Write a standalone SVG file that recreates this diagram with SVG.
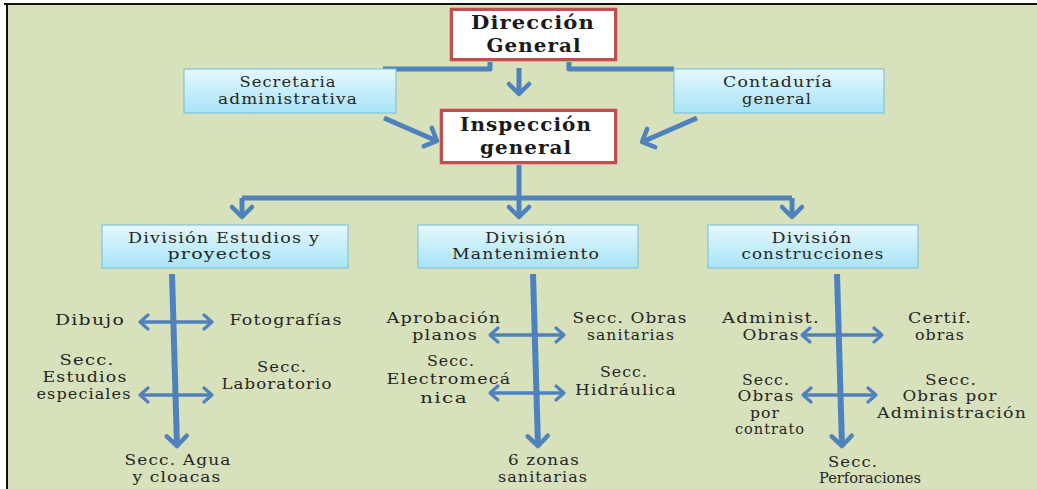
<svg xmlns="http://www.w3.org/2000/svg" width="1037" height="489" viewBox="0 0 1037 489">
  <style>
    .t { font-family: "DejaVu Serif", "Liberation Serif", serif; font-size: 15px; letter-spacing: 1px; fill: #262626; text-anchor: middle; }
    .h { font-family: "DejaVu Serif", "Liberation Serif", serif; font-size: 19px; font-weight: bold; letter-spacing: 1px; fill: #1a1a1a; text-anchor: middle; }
    .box { fill: url(#cyanGrad); stroke: #86C3D9; stroke-width: 1.2; }
    .frame-out { fill: #E4AAA7; }
    .frame-in { fill: #FFFFFF; stroke: #C0504D; stroke-width: 3; }
    .ln { fill: none; stroke: #4F81BD; stroke-width: 5; stroke-linejoin: round; }
    .main { fill: none; stroke: #4F81BD; stroke-width: 6; }
    .dbl { fill: none; stroke: #4F81BD; stroke-width: 3.5; }
  </style>
  <defs>
    <linearGradient id="cyanGrad" x1="0" y1="0" x2="0" y2="1">
      <stop offset="0" stop-color="#E6F8FE"/>
      <stop offset="1" stop-color="#A6E4F7"/>
    </linearGradient>
    <marker id="headBig" markerUnits="userSpaceOnUse" viewBox="-14 -14 28 28" markerWidth="28" markerHeight="28" refX="0" refY="0" orient="auto">
      <path d="M-10,-10 L0,0 L-10,10" fill="none" stroke="#4F81BD" stroke-width="4.5" stroke-linecap="round" stroke-linejoin="round"/>
    </marker>
    <marker id="headSmall" markerUnits="userSpaceOnUse" viewBox="-12 -12 24 24" markerWidth="24" markerHeight="24" refX="0" refY="0" orient="auto-start-reverse">
      <path d="M-8,-7 L0,0 L-8,7" fill="none" stroke="#4F81BD" stroke-width="3.2" stroke-linecap="round" stroke-linejoin="round"/>
    </marker>
  </defs>

  <!-- page background and frame -->
  <rect x="0" y="0" width="1037" height="489" fill="#FFFFFF"/>
  <rect x="7" y="4" width="1030" height="485" fill="#D7E1BB"/>
  <line x1="4" y1="4" x2="1037" y2="4" stroke="#111" stroke-width="2"/>
  <line x1="7" y1="3" x2="7" y2="489" stroke="#111" stroke-width="2"/>

  <!-- connectors -->
  <g id="connectors">
    <path class="ln" d="M490,62 V69 H383"/>
    <path class="ln" d="M569,62 V69 H674"/>
    <line class="ln" x1="519" y1="68" x2="519" y2="94" marker-end="url(#headBig)"/>
    <line class="ln" x1="384" y1="118" x2="437" y2="141" marker-end="url(#headBig)"/>
    <line class="ln" x1="697" y1="118" x2="642" y2="142" marker-end="url(#headBig)"/>
    <line class="ln" x1="519" y1="165" x2="519" y2="198"/>
    <path class="ln" d="M242,198 H792"/>
    <line class="ln" x1="242" y1="198" x2="242" y2="217" marker-end="url(#headBig)"/>
    <line class="ln" x1="519" y1="198" x2="519" y2="217" marker-end="url(#headBig)"/>
    <line class="ln" x1="792" y1="198" x2="792" y2="217" marker-end="url(#headBig)"/>

    <line class="main" x1="172" y1="274" x2="177" y2="446" marker-end="url(#headBig)"/>
    <line class="main" x1="533" y1="274" x2="538" y2="446" marker-end="url(#headBig)"/>
    <line class="main" x1="837" y1="274" x2="842" y2="446" marker-end="url(#headBig)"/>

    <line class="dbl" x1="140" y1="322" x2="212" y2="322" marker-start="url(#headSmall)" marker-end="url(#headSmall)"/>
    <line class="dbl" x1="140" y1="395" x2="212" y2="395" marker-start="url(#headSmall)" marker-end="url(#headSmall)"/>
    <line class="dbl" x1="490" y1="335" x2="564" y2="335" marker-start="url(#headSmall)" marker-end="url(#headSmall)"/>
    <line class="dbl" x1="490" y1="393" x2="564" y2="393" marker-start="url(#headSmall)" marker-end="url(#headSmall)"/>
    <line class="dbl" x1="802" y1="335" x2="882" y2="335" marker-start="url(#headSmall)" marker-end="url(#headSmall)"/>
    <line class="dbl" x1="803" y1="395" x2="876" y2="395" marker-start="url(#headSmall)" marker-end="url(#headSmall)"/>
  </g>

  <!-- top level -->
  <g id="direccion-general">
    <rect class="frame-out" x="449" y="7" width="169" height="55" rx="2"/>
    <rect class="frame-in" x="451.5" y="9.5" width="164" height="50"/>
    <text class="h" x="533" y="29" textLength="124" lengthAdjust="spacingAndGlyphs">Dirección</text>
    <text class="h" x="534" y="52" textLength="95" lengthAdjust="spacingAndGlyphs">General</text>
  </g>

  <g id="secretaria-administrativa">
    <rect class="box" x="184" y="69" width="212" height="44"/>
    <text class="t" x="288" y="87" textLength="97" lengthAdjust="spacingAndGlyphs">Secretaria</text>
    <text class="t" x="288" y="104" textLength="140" lengthAdjust="spacingAndGlyphs">administrativa</text>
  </g>

  <g id="contaduria-general">
    <rect class="box" x="674" y="69" width="210" height="44"/>
    <text class="t" x="778" y="87" textLength="110" lengthAdjust="spacingAndGlyphs">Contaduría</text>
    <text class="t" x="777" y="104" textLength="70" lengthAdjust="spacingAndGlyphs">general</text>
  </g>

  <g id="inspeccion-general">
    <rect class="frame-out" x="439" y="108" width="179" height="57" rx="2"/>
    <rect class="frame-in" x="441.5" y="110.5" width="174" height="52"/>
    <text class="h" x="526" y="131" textLength="132" lengthAdjust="spacingAndGlyphs">Inspección</text>
    <text class="h" x="526" y="154" textLength="92" lengthAdjust="spacingAndGlyphs">general</text>
  </g>

  <!-- divisions -->
  <g id="division-estudios">
    <rect class="box" x="102" y="225" width="246" height="43"/>
    <text class="t" x="224" y="243" textLength="192" lengthAdjust="spacingAndGlyphs">División Estudios y</text>
    <text class="t" x="220" y="259" textLength="105" lengthAdjust="spacingAndGlyphs">proyectos</text>
  </g>

  <g id="division-mantenimiento">
    <rect class="box" x="418" y="225" width="220" height="43"/>
    <text class="t" x="526" y="243" textLength="82" lengthAdjust="spacingAndGlyphs">División</text>
    <text class="t" x="526" y="259" textLength="148" lengthAdjust="spacingAndGlyphs">Mantenimiento</text>
  </g>

  <g id="division-construcciones">
    <rect class="box" x="708" y="225" width="210" height="43"/>
    <text class="t" x="812" y="243" textLength="81" lengthAdjust="spacingAndGlyphs">División</text>
    <text class="t" x="813" y="259" textLength="143" lengthAdjust="spacingAndGlyphs">construcciones</text>
  </g>

  <!-- sections: Estudios y proyectos -->
  <g id="dibujo"><text class="t" x="90" y="325" textLength="70" lengthAdjust="spacingAndGlyphs">Dibujo</text></g>
  <g id="fotografias"><text class="t" x="286" y="325" textLength="113" lengthAdjust="spacingAndGlyphs">Fotografías</text></g>
  <g id="estudios-especiales">
    <text class="t" x="87" y="365" textLength="55" lengthAdjust="spacingAndGlyphs">Secc.</text>
    <text class="t" x="85" y="382" textLength="85" lengthAdjust="spacingAndGlyphs">Estudios</text>
    <text class="t" x="84" y="399" textLength="95" lengthAdjust="spacingAndGlyphs">especiales</text>
  </g>
  <g id="laboratorio">
    <text class="t" x="282" y="372" textLength="50" lengthAdjust="spacingAndGlyphs">Secc.</text>
    <text class="t" x="277" y="389" textLength="111" lengthAdjust="spacingAndGlyphs">Laboratorio</text>
  </g>
  <g id="agua-cloacas">
    <text class="t" x="178" y="465" textLength="107" lengthAdjust="spacingAndGlyphs">Secc. Agua</text>
    <text class="t" x="177" y="482" textLength="89" lengthAdjust="spacingAndGlyphs">y cloacas</text>
  </g>

  <!-- sections: Mantenimiento -->
  <g id="aprobacion-planos">
    <text class="t" x="444" y="323" textLength="115" lengthAdjust="spacingAndGlyphs">Aprobación</text>
    <text class="t" x="445" y="340" textLength="66" lengthAdjust="spacingAndGlyphs">planos</text>
  </g>
  <g id="obras-sanitarias">
    <text class="t" x="630" y="323" textLength="115" lengthAdjust="spacingAndGlyphs">Secc. Obras</text>
    <text class="t" x="631" y="340" textLength="88" lengthAdjust="spacingAndGlyphs">sanitarias</text>
  </g>
  <g id="electromecanica">
    <text class="t" x="451" y="366" textLength="48" lengthAdjust="spacingAndGlyphs">Secc.</text>
    <text class="t" x="449" y="384" textLength="125" lengthAdjust="spacingAndGlyphs">Electromecá</text>
    <text class="t" x="444" y="403" textLength="48" lengthAdjust="spacingAndGlyphs">nica</text>
  </g>
  <g id="hidraulica">
    <text class="t" x="624" y="377" textLength="48" lengthAdjust="spacingAndGlyphs">Secc.</text>
    <text class="t" x="626" y="395" textLength="102" lengthAdjust="spacingAndGlyphs">Hidráulica</text>
  </g>
  <g id="zonas-sanitarias">
    <text class="t" x="544" y="465" textLength="72" lengthAdjust="spacingAndGlyphs">6 zonas</text>
    <text class="t" x="543" y="482" textLength="90" lengthAdjust="spacingAndGlyphs">sanitarias</text>
  </g>

  <!-- sections: Construcciones -->
  <g id="administ-obras">
    <text class="t" x="771" y="323" textLength="98" lengthAdjust="spacingAndGlyphs">Administ.</text>
    <text class="t" x="771" y="340" textLength="57" lengthAdjust="spacingAndGlyphs">Obras</text>
  </g>
  <g id="certif-obras">
    <text class="t" x="940" y="323" textLength="64" lengthAdjust="spacingAndGlyphs">Certif.</text>
    <text class="t" x="940" y="340" textLength="50" lengthAdjust="spacingAndGlyphs">obras</text>
  </g>
  <g id="obras-contrato">
    <text class="t" x="766" y="385" textLength="48" lengthAdjust="spacingAndGlyphs">Secc.</text>
    <text class="t" x="766" y="401" textLength="57" lengthAdjust="spacingAndGlyphs">Obras</text>
    <text class="t" x="765" y="418" textLength="30" lengthAdjust="spacingAndGlyphs">por</text>
    <text class="t" x="770" y="434" textLength="70" lengthAdjust="spacingAndGlyphs">contrato</text>
  </g>
  <g id="obras-administracion">
    <text class="t" x="951" y="385" textLength="52" lengthAdjust="spacingAndGlyphs">Secc.</text>
    <text class="t" x="950" y="401" textLength="95" lengthAdjust="spacingAndGlyphs">Obras por</text>
    <text class="t" x="952" y="418" textLength="150" lengthAdjust="spacingAndGlyphs">Administración</text>
  </g>
  <g id="perforaciones">
    <text class="t" x="853" y="467" textLength="50" lengthAdjust="spacingAndGlyphs">Secc.</text>
    <text class="t" x="870" y="483" textLength="102" lengthAdjust="spacingAndGlyphs" style="font-size:14px;letter-spacing:0">Perforaciones</text>
  </g>
</svg>
